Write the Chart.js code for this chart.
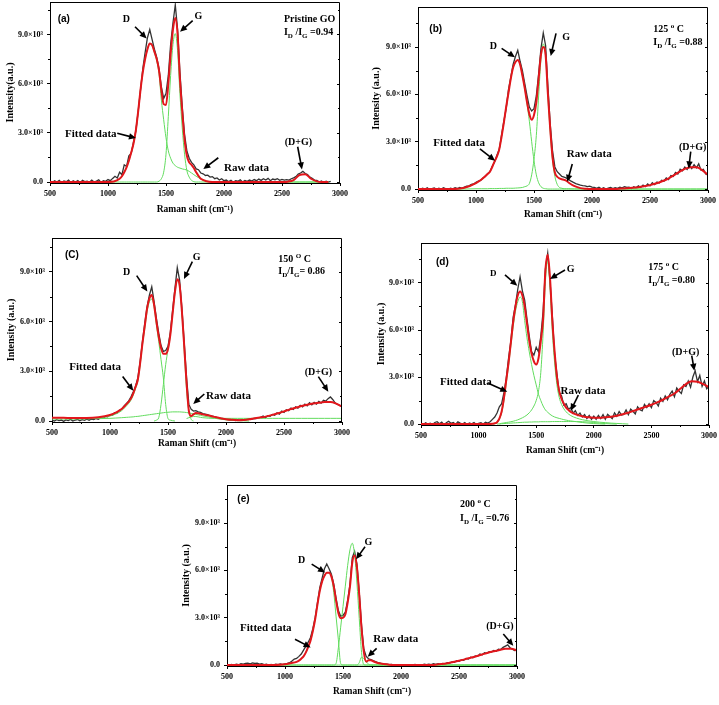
<!DOCTYPE html>
<html><head><meta charset="utf-8">
<script src="https://cdn.jsdelivr.net/npm/chart.js@4.4.1/dist/chart.umd.min.js"></script>
<style>
html,body{margin:0;padding:0;background:#fff;width:719px;height:705px;overflow:hidden;position:relative}
canvas{position:absolute}
</style></head><body>
<canvas id="pa"></canvas><canvas id="pb"></canvas><canvas id="pc"></canvas><canvas id="pd"></canvas><canvas id="pe"></canvas>
<script>
// ---------- axes ----------
const X_TICKS=[500,1000,1500,2000,2500,3000];
const X_MINOR=[750,1250,1750,2250,2750];
const Y_TICKS=[0,3,6,9];
const Y_LABELS=['0.0','3.0×10³','6.0×10³','9.0×10³'];
const Y_MINOR=[1.5,4.5,7.5,10.5];

// ---------- x grids (cm-1) ----------
const FX=[500,600,700,800,900,1000,1050,
1100,1120,1140,1160,1180,1200,1220,1240,1260,1280,
1300,1320,1340,1360,1380,1400,1420,1440,1460,1480,
1500,1520,1540,1560,1580,1600,1620,1640,1660,1680,
1700,1720,1740,1760,1780,1800,
1850,1900,1950,2000,2050,2100,2150,2200,2250,
2300,2350,2400,2450,2500,2550,2600,2650,2700,
2750,2800,2850,2900,2950,3000];
const RX=[500,520,540,560,580,600,620,640,660,680,
700,720,740,760,780,800,820,840,860,880,
900,920,940,960,980,1000,1020,1040,1060,1080,
1100,1120,1140,1160,1180,1200,1220,1240,1260,1280,
1300,1320,1340,1360,1380,1400,1420,1440,1460,1480,
1500,1520,1540,1560,1580,1600,1620,1640,1660,1680,
1700,1720,1740,1760,1780,1800,1820,1840,1860,1880,
1900,1920,1940,1960,1980,2000,2020,2040,2060,2080,
2100,2120,2140,2160,2180,2200,2220,2240,2260,2280,
2300,2320,2340,2360,2380,2400,2420,2440,2460,2480,
2500,2520,2540,2560,2580,2600,2620,2640,2660,2680,
2700,2720,2740,2760,2780,2800,2820,2840,2860,2880,
2900,2920,2940,2960,2980,3000];

// ---------- panel (a) Pristine GO, intensity in units of 10^3 ----------
const RAW_A=[0.05,-0.03,0.08,0.0,0.1,-0.05,0.06,0.02,0.12,-0.04,
0.07,0.0,0.09,-0.06,0.1,0.03,0.05,-0.02,0.11,0.0,
0.06,0.13,-0.03,0.08,0.04,0.15,0.08,0.22,0.35,0.25,
0.6,0.45,1.05,0.95,1.6,1.75,2.45,3.1,4.3,5.6,
6.9,7.9,8.8,9.3,8.7,8.1,7.6,6.9,5.8,5.1,
5.4,6.5,8.4,9.7,10.8,9.3,6.7,4.6,2.9,1.9,
1.45,1.2,1.05,0.8,0.75,0.55,0.5,0.4,0.42,0.3,
0.33,0.2,0.25,0.12,0.2,0.08,0.12,0.02,0.1,-0.02,
0.08,0.05,0.14,0.0,0.09,0.04,0.12,0.06,0.15,0.08,
0.18,0.1,0.2,0.12,0.22,0.08,0.18,0.14,0.2,0.1,
0.16,0.12,0.15,0.12,0.2,0.25,0.33,0.48,0.55,0.65,
0.52,0.45,0.3,0.22,0.12,0.1,0.0,0.06,-0.03,0.05,
0.0,0.04,null,null,null,null];
const FIT_A=[0,0,0,0,0,0,0.03,
0.2,0.35,0.6,0.9,1.3,1.8,2.35,3.15,4.3,5.6,
6.7,7.5,8.1,8.45,8.35,7.95,7.5,6.8,5.6,4.75,
4.7,6.0,7.8,9.3,10.0,9.0,6.3,4.3,2.6,1.6,
1.2,1.05,0.85,0.6,0.37,0.2,
0.05,0,0,0,0,0,0,0,0,
0,0,0,0,0,0.02,0.12,0.42,0.48,
0.2,0.04,0,0,null,null];
const COMP_A_D=[0,0,0,0,0,0,0.03,
0.2,0.35,0.6,0.9,1.3,1.8,2.35,3.15,4.3,5.6,
6.7,7.5,8.1,8.45,8.35,7.9,7.4,6.6,5.0,3.8,
2.7,1.9,1.45,1.15,1.0,0.9,0.85,0.8,0.77,0.73,
0.65,0.55,0.45,0.35,0.27,0.18,
0.05,0,0,0,0,0,0,0,0,
0,0,0,0,0,0,0,0,0,
0,0,0,0,null,null];
const COMP_A_G=[0,0,0,0,0,0,0,
0,0,0,0,0,0,0,0,0,0,
0,0,0,0,0,0,0,0.05,0.2,0.6,
1.7,4.0,6.5,8.4,9.05,8.0,5.4,3.3,1.7,0.7,
0.3,0.1,0.02,0,0,0,
0,0,0,0,0,0,0,0,0,
0,0,0,0,0,0,0,0,0,
0,0,0,0,null,null];

// ---------- panel (b) 125 °C ----------
const RAW_B=[0.04,-0.02,0.06,0.0,0.08,-0.04,0.03,0.07,-0.02,0.05,
0.0,0.09,0.02,-0.03,0.06,0.01,0.08,0.03,0.1,0.05,
0.12,0.18,0.2,0.3,0.32,0.42,0.5,0.55,0.7,0.8,
0.98,1.1,1.45,1.7,2.15,2.5,3.4,4.3,5.1,6.3,
7.1,7.9,8.4,8.8,8.1,7.5,6.7,5.9,5.2,4.95,
5.1,5.9,7.3,8.9,9.9,9.1,6.5,4.1,2.4,1.4,
1.1,0.95,0.8,0.75,0.7,0.6,0.5,0.42,0.35,0.3,
0.25,0.22,0.2,0.15,0.18,0.12,0.1,0.05,0.12,0.02,
0.08,0.0,0.06,0.1,0.03,0.09,0.05,0.12,0.08,0.15,
0.1,0.12,0.02,0.15,0.08,0.2,0.1,0.25,0.15,0.32,
0.2,0.4,0.28,0.45,0.38,0.55,0.5,0.7,0.6,0.85,
0.8,1.05,0.95,1.25,1.15,1.4,1.25,1.5,1.3,1.55,
1.35,1.6,1.2,1.25,0.95,0.9];
const FIT_B=[0,0,0,0,0.08,0.38,0.62,
0.95,1.1,1.4,1.75,2.05,2.5,3.3,4.2,5.2,6.1,
7.0,7.7,8.05,8.18,7.9,7.2,6.4,5.5,4.75,4.4,
4.7,5.5,7.0,8.5,9.0,8.5,6.0,3.8,2.0,1.05,
0.78,0.68,0.62,0.58,0.52,0.4,
0.18,0.06,0.02,0,0,0,0,0.01,0.03,
0.05,0.08,0.12,0.18,0.25,0.35,0.48,0.63,0.85,
1.08,1.28,1.38,1.38,1.2,0.9];
const COMP_B_D=[0,0,0,0,0.08,0.38,0.62,
0.95,1.1,1.4,1.75,2.05,2.5,3.3,4.2,5.2,6.1,
7.0,7.7,8.05,8.18,7.9,7.2,6.4,5.4,4.3,3.0,
1.8,0.9,0.4,0.15,0.05,0.02,0,0,0,0,
0,0,0,0,0,0,
0,0,0,0,0,0,0,0,0,
0,0,0,0,0,0,0,0,0,
0,0,0,0,0,0];
const COMP_B_G=[0,0,0,0,0,0.02,0.02,
0.02,0.03,0.03,0.03,0.03,0.04,0.04,0.04,0.05,0.05,
0.05,0.05,0.06,0.07,0.08,0.1,0.15,0.2,0.35,0.9,
1.9,3.4,5.9,8.2,9.2,8.4,5.8,3.6,1.8,0.8,
0.3,0.1,0.05,0.02,0.02,0.02,
0.01,0.01,0,0,0,0,0,0,0,
0,0,0,0,0,0,0,0,0,
0,0,0,0,0,0];

// ---------- panel (c) 150 °C ----------
const RAW_C=[0.05,0.0,0.08,0.02,0.06,-0.02,0.07,0.03,0.1,0.0,
0.06,0.09,0.02,0.08,0.04,0.11,0.05,0.12,0.08,0.15,
0.1,0.2,0.18,0.28,0.25,0.38,0.35,0.5,0.48,0.65,
0.7,0.9,1.05,1.2,1.45,1.75,2.1,2.6,3.6,4.8,
5.9,6.9,7.6,8.1,7.2,6.2,5.3,4.55,4.2,4.25,
4.5,5.35,6.7,8.0,9.25,8.5,6.8,4.7,2.6,1.0,
0.7,0.6,0.62,0.55,0.52,0.45,0.42,0.38,0.33,0.3,
0.26,0.22,0.2,0.15,0.14,0.1,0.08,0.05,0.07,0.03,
0.06,0.04,0.08,0.05,0.1,0.12,0.1,0.16,0.15,0.2,
0.22,0.3,0.2,0.32,0.28,0.4,0.35,0.5,0.42,0.6,
0.52,0.68,0.62,0.78,0.7,0.85,0.78,0.95,0.85,1.02,
0.92,1.1,0.98,1.12,1.02,1.18,1.08,1.25,1.2,1.35,
1.45,1.3,1.1,1.0,0.95,0.85];
const FIT_C=[0.2,0.19,0.18,0.18,0.22,0.36,0.5,
0.72,0.85,1.0,1.15,1.35,1.65,2.05,2.5,3.5,4.7,
5.75,6.8,7.4,7.6,7.0,6.0,5.1,4.4,4.05,4.05,
4.35,5.2,6.5,7.8,8.55,8.2,6.6,4.5,2.3,0.6,
0.3,0.4,0.48,0.47,0.44,0.4,
0.33,0.25,0.17,0.11,0.07,0.05,0.06,0.1,0.17,
0.22,0.28,0.37,0.47,0.58,0.7,0.8,0.9,0.98,
1.05,1.1,1.14,1.15,1.05,0.87];
const COMP_C_D=[0.12,0.12,0.12,0.13,0.17,0.3,0.42,
0.62,0.75,0.9,1.05,1.25,1.55,1.95,2.4,3.4,4.6,
5.6,6.6,7.2,7.35,6.9,5.8,4.8,3.7,2.6,1.0,
0.15,0.05,0.02,0,null,null,null,null,null,null,
null,null,null,null,null,null,
null,null,null,null,null,null,null,null,null,
null,null,null,null,null,null,null,null,null,
null,null,null,null,null,null];
const COMP_C_G=[null,null,null,null,null,null,null,
null,null,null,null,null,null,null,null,null,null,
null,null,null,null,0,0.05,0.2,1.0,2.2,3.4,
4.3,5.15,6.45,7.7,8.5,8.1,6.5,4.2,1.9,0.6,
0.1,0,null,null,null,null,
null,null,null,null,null,null,null,null,null,
null,null,null,null,null,null,null,null,null,
null,null,null,null,null,null];
const COMP_C_B=[null,null,null,null,0.14,0.16,0.18,
0.2,0.21,0.22,0.23,0.24,0.25,0.27,0.28,0.3,0.32,
0.34,0.36,0.38,0.4,0.42,0.44,0.46,0.48,0.5,0.52,
0.53,0.54,0.55,0.55,0.55,0.55,0.54,0.53,0.51,0.49,
0.46,0.43,0.4,0.37,0.34,0.31,
0.24,0.17,0.11,0.07,0.04,0.02,0.01,0,null,
null,null,null,null,null,null,null,null,null,
null,null,null,null,null,null];
const COMP_C_F=[null,null,null,null,null,null,null,
null,null,null,null,null,null,null,null,null,null,
null,null,null,null,null,null,null,null,null,null,
null,null,null,null,null,null,null,null,0.15,0.2,
0.24,0.27,0.27,0.25,0.22,0.2,
0.17,0.16,0.16,0.16,0.16,0.16,0.16,0.16,0.16,
0.16,0.16,0.16,0.16,0.16,0.16,0.16,0.16,0.16,
0.16,0.16,0.16,0.16,0.16,0.16];

// ---------- panel (d) 175 °C ----------
const RAW_D=[0.03,-0.05,0.08,0.0,0.06,-0.03,0.1,0.15,0.02,0.12,
-0.04,0.08,0.18,0.05,0.1,-0.02,0.14,0.06,0.0,0.09,
-0.05,0.07,0.02,0.1,-0.03,0.05,0.08,0.0,0.12,0.06,
0.15,0.3,0.45,0.7,1.1,1.3,2.0,2.9,4.2,5.3,
6.8,7.6,8.6,9.4,8.5,7.9,6.7,5.6,4.6,4.4,
4.9,4.6,5.6,7.2,9.9,10.9,9.1,6.9,4.4,3.2,
2.0,1.8,1.2,1.3,0.95,1.05,0.7,0.85,0.55,0.7,
0.45,0.6,0.35,0.55,0.3,0.5,0.3,0.55,0.35,0.6,
0.3,0.62,0.48,0.35,0.72,0.5,0.8,0.58,0.62,0.9,
0.6,0.95,0.82,0.65,1.1,0.92,0.85,1.25,1.05,1.3,
1.05,1.5,1.38,1.15,1.65,1.45,1.8,1.55,1.9,2.1,
1.75,2.3,2.1,1.95,2.5,2.4,2.75,2.35,3.0,3.4,
2.7,3.1,2.4,2.75,2.25,2.4];
const FIT_D=[0,0,0,0,0,0,0,
0,0.02,0.05,0.12,0.35,0.8,1.65,2.8,3.9,5.2,
6.5,7.5,8.2,8.45,8.2,7.5,6.4,5.3,4.5,4.0,
3.8,4.2,5.3,6.7,9.8,10.8,9.3,6.6,4.6,3.0,
2.1,1.6,1.3,1.05,0.9,0.78,
0.6,0.5,0.43,0.4,0.4,0.43,0.47,0.53,0.62,
0.72,0.85,0.98,1.1,1.23,1.38,1.55,1.75,1.95,
2.25,2.55,2.73,2.7,2.55,2.35];
const COMP_D_D=[0,0,0,0,0,0,0,
0,0,0.02,0.08,0.3,0.72,1.5,2.6,3.75,5.0,
6.2,7.2,7.8,8.1,7.8,6.6,5.5,4.6,3.8,3.1,
2.5,1.9,1.5,1.15,0.9,0.75,0.62,0.52,0.45,0.4,
0.36,0.32,0.28,0.25,0.22,0.2,
0.15,0.1,0.06,0.03,0.01,0,null,null,null,
null,null,null,null,null,null,null,null,null,
null,null,null,null,null,null];
const COMP_D_G=[null,null,null,null,null,null,null,
null,null,null,null,0,0.05,0.07,0.1,0.12,0.15,
0.18,0.22,0.27,0.33,0.4,0.48,0.58,0.72,0.9,1.15,
1.5,2.1,3.3,5.8,9.1,10.4,8.7,5.9,3.9,2.5,
1.7,1.25,0.97,0.78,0.64,0.54,
0.38,0.28,0.21,0.16,0.12,0.09,0.06,0.04,0.02,
0,null,null,null,null,null,null,null,null,
null,null,null,null,null,null];
const COMP_D_B=[null,null,null,null,null,null,null,
null,null,null,0,0.01,0.02,0.03,0.04,0.05,0.06,
0.07,0.08,0.09,0.1,0.11,0.12,0.12,0.13,0.13,0.14,
0.14,0.14,0.15,0.15,0.15,0.15,0.15,0.16,0.16,0.16,
0.16,0.16,0.16,0.16,0.16,0.16,
0.16,0.15,0.13,0.1,0.06,0.03,0.01,0,null,
null,null,null,null,null,null,null,null,null,
null,null,null,null,null,null];

// ---------- panel (e) 200 °C ----------
const RAW_E=[0.02,-0.02,0.04,0.0,0.05,0.02,0.08,0.06,0.1,0.12,
0.08,0.14,0.1,0.12,0.06,0.09,0.03,0.05,-0.01,0.04,
0.0,0.06,0.02,0.07,0.03,0.08,0.1,0.15,0.25,0.38,
0.42,0.55,0.7,0.95,1.2,1.45,1.75,2.3,3.0,3.95,
4.9,5.5,6.1,6.4,6.1,5.75,5.15,4.25,3.45,3.1,
3.15,3.35,4.1,5.1,6.8,7.2,6.4,4.6,2.5,1.0,
0.55,0.4,0.35,0.28,0.22,0.15,0.12,0.08,0.05,0.06,
0.02,0.04,0.0,0.03,-0.01,0.02,0.0,0.03,-0.02,0.02,
0.0,0.04,0.01,0.03,0.0,0.05,0.02,0.06,0.03,0.08,
0.05,0.08,0.04,0.1,0.08,0.15,0.12,0.2,0.18,0.28,
0.24,0.33,0.3,0.42,0.38,0.5,0.46,0.58,0.55,0.7,
0.65,0.78,0.74,0.85,0.82,0.92,0.88,1.0,0.98,1.12,
1.2,1.28,1.1,1.0,0.92,0.95];
const FIT_E=[0,0,0,0,0,0.05,0.12,
0.2,0.28,0.4,0.55,0.8,1.15,1.55,2.15,2.9,3.85,
4.7,5.3,5.65,5.85,5.85,5.6,5.0,4.1,3.3,2.97,
3.0,3.2,3.95,4.97,6.5,6.95,6.2,4.45,2.3,0.8,
0.22,0.3,0.3,0.24,0.18,0.13,
0.06,0.02,0,0,0,0,0,0,0,
0.02,0.06,0.12,0.2,0.27,0.36,0.46,0.56,0.67,
0.78,0.87,0.95,1.03,1.03,0.93];
const COMP_E_D=[0,0,0,0,0,0.05,0.12,
0.2,0.28,0.4,0.55,0.8,1.15,1.55,2.15,2.9,3.85,
4.7,5.3,5.65,5.85,5.85,5.6,4.6,3.1,1.6,0.1,
0,0,0,0,0,0,0,0,0,0,
0,0,0,0,0,0,
0,0,0,0,0,0,0,0,0,
0,0,0,0,0,0,0,0,0,
0,0,0,0,0,0];
const COMP_E_G=[0,0,0,0,0,0,0,
0,0,0,0,0,0,0,0,0,0,
0,0,0,0,0,0,0,0.1,1.1,2.4,
3.7,5.0,6.3,7.3,7.72,7.0,5.2,2.95,0.8,0.02,
0,0,0,0,0,0,
0,0,0,0,0,0,0,0,0,
0,0,0,0,0,0,0,0,0,
0,0,0,0,0,0];
const COMP_E_S=[0,0,0,0,0,0,0,
0,0,0,0,0,0,0,0,0,0,
0,0,0,0,0,0,0,0,0,0,
0,0,0,0,0,0,0,0.15,0.5,0.4,
0.2,0.06,0,0,0,0,
0,0,0,0,0,0,0,0,0,
0,0,0,0,0,0,0,0,0,
0,0,0,0,0,0];

// ---------- layout / text (positions in data units) ----------
const PANELS=[
 {canvas:'pa', box:{L:50,T:2,R:340,B:183}, yMax:10.98, raw:RAW_A, fit:FIT_A, comps:[COMP_A_D,COMP_A_G],
  xTitle:'Raman shift (cm⁻¹)', yTitle:'Intensity(a.u.)', xPad:3.3, yPad:4,
  notes:[{t:'(a)',x:566,y:10.0,al:'left',sans:1},{t:'D',x:1158,y:9.98,al:'center'},{t:'G',x:1779,y:10.18,al:'center'},
   {t:'Pristine GO',x:2517,y:9.98,al:'left'},{t:'I_{D} /I_{G} =0.94',x:2517,y:9.2,al:'left'},
   {t:'Fitted data',x:629,y:2.97,al:'left',s:11},{t:'Raw data',x:2000,y:0.93,al:'left',s:11},{t:'(D+G)',x:2641,y:2.46,al:'center'}],
  arrows:[[1233,9.47,1333,8.76],[1730,9.84,1621,9.16],[1080,2.97,1241,2.68],[1951,1.48,1822,0.79],[2635,2.15,2672,0.77]]},
 {canvas:'pb', box:{L:418,T:7,R:708,B:190}, yMax:11.54, raw:RAW_B, fit:FIT_B, comps:[COMP_B_D,COMP_B_G],
  xTitle:'Raman Shift (cm⁻¹)', yTitle:'Intensity (a.u.)', xPad:5.3, yPad:2.7,
  notes:[{t:'(b)',x:598,y:10.19,al:'left',sans:1},{t:'D',x:1149,y:9.09,al:'center'},{t:'G',x:1776,y:9.66,al:'center'},
   {t:'125 ^{o} C',x:2528,y:10.19,al:'left'},{t:'I_{D} /I_{G} =0.88',x:2528,y:9.34,al:'left'},
   {t:'Fitted data',x:632,y:2.96,al:'left',s:11},{t:'Raw data',x:1782,y:2.26,al:'left',s:11},{t:'(D+G)',x:2868,y:2.68,al:'center'}],
  arrows:[[1221,8.92,1336,8.35],[1690,9.87,1644,8.43],[1034,2.54,1164,1.8],[1830,1.59,1787,0.46],[2851,2.37,2834,1.31]]},
 {canvas:'pc', box:{L:52,T:238,R:342,B:422}, yMax:11.04, raw:RAW_C, fit:FIT_C, comps:[COMP_C_D,COMP_C_G,COMP_C_B,COMP_C_F],
  xTitle:'Raman Shift (cm⁻¹)', yTitle:'Intensity (a.u.)', xPad:8.3, yPad:3.7,
  notes:[{t:'(C)',x:612,y:10.02,al:'left',sans:1},{t:'D',x:1144,y:9.01,al:'center'},{t:'G',x:1747,y:9.92,al:'center'},
   {t:'150 ^{O} C',x:2451,y:9.82,al:'left'},{t:'I_{D}/I_{G}= 0.86',x:2451,y:9.05,al:'left'},
   {t:'Fitted data',x:649,y:3.28,al:'left',s:11},{t:'Raw data',x:1828,y:1.53,al:'left',s:11},{t:'(D+G)',x:2796,y:2.98,al:'center'}],
  arrows:[[1230,8.77,1322,7.81],[1710,9.62,1638,8.57],[1109,2.68,1201,1.83],[1813,1.63,1718,1.03],[2796,2.68,2882,1.77]]},
 {canvas:'pd', box:{L:421,T:243,R:709,B:425}, yMax:11.55, raw:RAW_D, fit:FIT_D, comps:[COMP_D_D,COMP_D_G,COMP_D_B],
  xTitle:'Raman Shift (cm⁻¹)', yTitle:'Intensity (a.u.)', xPad:4.3, yPad:4.7,
  notes:[{t:'(d)',x:630,y:10.36,al:'left',sans:1},{t:'D',x:1128,y:9.62,al:'center',s:9},{t:'G',x:1799,y:9.94,al:'center'},
   {t:'175 ^{o} C',x:2473,y:10.04,al:'left'},{t:'I_{D}/I_{G} =0.80',x:2473,y:9.23,al:'left'},
   {t:'Fitted data',x:665,y:2.74,al:'left',s:11},{t:'Raw data',x:1712,y:2.17,al:'left',s:11},{t:'(D+G)',x:2797,y:4.62,al:'center'}],
  arrows:[[1229,9.51,1336,8.83],[1750,9.83,1620,9.26],[1084,2.6,1249,2.06],[1866,1.85,1799,0.85],[2850,4.36,2873,3.4]]},
 {canvas:'pe', box:{L:227,T:485,R:517,B:666}, yMax:11.41, raw:RAW_E, fit:FIT_E, comps:[COMP_E_D,COMP_E_G,COMP_E_S],
  xTitle:'Raman Shift (cm⁻¹)', yTitle:'Intensity (a.u.)', xPad:4.3, yPad:3.7,
  notes:[{t:'(e)',x:589,y:10.57,al:'left',sans:1},{t:'D',x:1144,y:6.7,al:'center'},{t:'G',x:1718,y:7.82,al:'center'},
   {t:'200 ^{o} C',x:2509,y:10.25,al:'left'},{t:'I_{D} /I_{G} =0.76',x:2509,y:9.37,al:'left'},
   {t:'Fitted data',x:612,y:2.43,al:'left',s:11},{t:'Raw data',x:1761,y:1.69,al:'left',s:11},{t:'(D+G)',x:2853,y:2.49,al:'center'}],
  arrows:[[1230,6.4,1345,5.86],[1690,7.5,1612,6.7],[1086,1.63,1221,1.12],[1790,1.06,1713,0.53],[2882,1.97,2968,1.23]]}
];

const SERIF='"Liberation Serif","Times New Roman",serif';
const SANS='"Liberation Sans",Arial,sans-serif';
const RED='#e3161c', GREEN='#62dc5e', RAWC='#333333';

function drawRich(ctx,text,x,y,align,size,family){
  const parts=[];const re=/([_^])\{([^}]*)\}/g;let last=0,m;
  while((m=re.exec(text))){if(m.index>last)parts.push({t:text.slice(last,m.index),k:''});parts.push({t:m[2],k:m[1]});last=re.lastIndex;}
  if(last<text.length)parts.push({t:text.slice(last),k:''});
  const fM='bold '+size+'px '+family, fS='bold '+Math.round(size*0.68)+'px '+family;
  let w=0;for(const p of parts){ctx.font=p.k?fS:fM;p.w=ctx.measureText(p.t).width;w+=p.w;}
  let cx=align==='center'?x-w/2:(align==='right'?x-w:x);
  ctx.textAlign='left';ctx.textBaseline='alphabetic';ctx.fillStyle='#000';
  const base=y+size*0.35;
  for(const p of parts){ctx.font=p.k?fS:fM;const dy=p.k==='_'?size*0.3:(p.k==='^'?-size*0.42:0);ctx.fillText(p.t,cx,base+dy);cx+=p.w;}
}
function drawArrow(ctx,x1,y1,x2,y2){
  const a=Math.atan2(y2-y1,x2-x1),hl=7,hw=3.2,c=Math.cos(a),s=Math.sin(a);
  ctx.strokeStyle='#000';ctx.fillStyle='#000';ctx.lineWidth=1.6;
  ctx.beginPath();ctx.moveTo(x1,y1);ctx.lineTo(x2-c*hl*0.7,y2-s*hl*0.7);ctx.stroke();
  ctx.beginPath();ctx.moveTo(x2,y2);ctx.lineTo(x2-hl*c+hw*s,y2-hl*s-hw*c);ctx.lineTo(x2-hl*c-hw*s,y2-hl*s+hw*c);ctx.closePath();ctx.fill();
}
const framePlugin={id:'frame',afterDraw(chart){
  const {ctx,chartArea:a,scales:{x,y}}=chart;ctx.save();ctx.strokeStyle='#000';ctx.lineWidth=1;ctx.beginPath();
  ctx.moveTo(a.left,a.top+0.5);ctx.lineTo(a.right-0.5,a.top+0.5);ctx.lineTo(a.right-0.5,a.bottom);
  for(const v of X_MINOR){const p=Math.round(x.getPixelForValue(v))+0.5;ctx.moveTo(p,a.bottom);ctx.lineTo(p,a.bottom+2);}
  for(const v of Y_MINOR){const p=Math.round(y.getPixelForValue(v))+0.5;ctx.moveTo(a.left,p);ctx.lineTo(a.left-2,p);ctx.moveTo(a.right,p);ctx.lineTo(a.right-2,p);}
  for(const v of Y_TICKS){const p=Math.round(y.getPixelForValue(v))+0.5;ctx.moveTo(a.right,p);ctx.lineTo(a.right-3,p);}
  ctx.stroke();ctx.restore();}};
const annotPlugin={id:'annot',afterDatasetsDraw(chart,args,opts){
  const {ctx,scales:{x,y}}=chart;ctx.save();
  for(const r of opts.arrows)drawArrow(ctx,x.getPixelForValue(r[0]),y.getPixelForValue(r[1]),x.getPixelForValue(r[2]),y.getPixelForValue(r[3]));
  for(const n of opts.notes)drawRich(ctx,n.t,x.getPixelForValue(n.x),y.getPixelForValue(n.y),n.al,n.s||10,n.sans?SANS:SERIF);
  ctx.restore();}};

function pts(xs,ys){return xs.map((v,i)=>({x:v,y:ys[i]}));}

function build(p){
  const c=document.getElementById(p.canvas);const {L,T,R,B}=p.box;
  const cw=R-L+64, ch=B-T+50;
  c.width=cw;c.height=ch;c.style.width=cw+'px';c.style.height=ch+'px';
  c.style.left=(L-50)+'px';c.style.top=(T-14)+'px';
  const tickFont={family:SERIF,weight:'bold',size:8};
  const ds=[{data:pts(FX,p.fit),borderColor:RED,borderWidth:2,cubicInterpolationMode:'monotone',order:0}];
  for(const comp of p.comps)ds.push({data:pts(FX,comp),borderColor:GREEN,borderWidth:1,cubicInterpolationMode:'monotone',order:1});
  ds.push({data:pts(RX,p.raw),borderColor:RAWC,borderWidth:1.3,tension:0,order:2});
  new Chart(c,{type:'line',data:{datasets:ds},plugins:[framePlugin,annotPlugin],
   options:{responsive:false,animation:false,devicePixelRatio:1,
    layout:{padding:{top:14,right:14,left:0,bottom:0}},
    elements:{point:{radius:0}},
    plugins:{legend:{display:false},tooltip:{enabled:false},annot:{notes:p.notes,arrows:p.arrows}},
    scales:{
     x:{type:'linear',min:500,max:3000,
        afterBuildTicks:s=>{s.ticks=X_TICKS.map(v=>({value:v}));},
        afterFit:s=>{s.height=36;},
        ticks:{font:tickFont,color:'#000',padding:3,maxRotation:0,autoSkip:false,callback:v=>String(v)},
        grid:{drawOnChartArea:false,drawTicks:true,tickLength:3,color:'#000'},
        border:{color:'#000',width:1},
        title:{display:true,text:p.xTitle,color:'#000',font:{family:SERIF,weight:'bold',size:9.5,lineHeight:1.2},padding:{top:0,bottom:p.xPad}}},
     y:{type:'linear',min:-0.06,max:p.yMax,
        afterBuildTicks:s=>{s.ticks=Y_TICKS.map(v=>({value:v}));},
        afterFit:s=>{s.width=50;},
        ticks:{font:tickFont,color:'#000',padding:4,callback:v=>{const i=Y_TICKS.indexOf(v);return i<0?'':Y_LABELS[i];}},
        grid:{drawOnChartArea:false,drawTicks:true,tickLength:3,color:'#000'},
        border:{color:'#000',width:1},
        title:{display:true,text:p.yTitle,color:'#000',font:{family:SERIF,weight:'bold',size:10,lineHeight:1.2},padding:{top:p.yPad,bottom:0}}}
    }}});
}
PANELS.forEach(build);
</script>
</body></html>
